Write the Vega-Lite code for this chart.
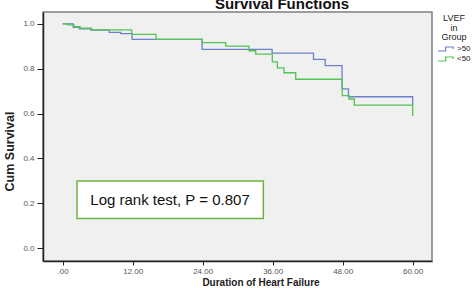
{
  "$schema": "https://vega.github.io/schema/vega-lite/v6.json",
  "width": 389,
  "height": 249,
  "autosize": {"type": "none"},
  "padding": {"left": 43, "top": 12, "right": 41, "bottom": 27},
  "background": "white",
  "config": {
    "view": {"fill": "#f0f0f0", "stroke": "#808080", "strokeWidth": 1.5},
    "font": "Liberation Sans"
  },
  "title": {
    "text": "Survival Functions",
    "fontSize": 15,
    "fontWeight": "bold",
    "font": "Liberation Sans",
    "color": "#111111",
    "anchor": "middle",
    "frame": "group",
    "dx": 44.5,
    "baseline": "alphabetic",
    "offset": -12
  },
  "datasets": {
    "km": [
      {"group": ">50", "t": 0, "s": 1.0},
      {"group": ">50", "t": 1.8, "s": 0.984},
      {"group": ">50", "t": 2.85, "s": 0.977},
      {"group": ">50", "t": 4.85, "s": 0.972},
      {"group": ">50", "t": 8.0, "s": 0.962},
      {"group": ">50", "t": 9.95, "s": 0.956},
      {"group": ">50", "t": 11.9, "s": 0.931},
      {"group": ">50", "t": 23.9, "s": 0.886},
      {"group": ">50", "t": 35.9, "s": 0.869},
      {"group": ">50", "t": 43.0, "s": 0.842},
      {"group": ">50", "t": 45.0, "s": 0.814},
      {"group": ">50", "t": 47.9, "s": 0.71},
      {"group": ">50", "t": 49.0, "s": 0.675},
      {"group": ">50", "t": 60.0, "s": 0.638},
      {"group": "<50", "t": 0, "s": 1.0},
      {"group": "<50", "t": 0.86, "s": 0.995},
      {"group": "<50", "t": 1.94, "s": 0.987},
      {"group": "<50", "t": 2.97, "s": 0.981},
      {"group": "<50", "t": 4.97, "s": 0.973},
      {"group": "<50", "t": 11.83, "s": 0.953},
      {"group": "<50", "t": 16.0, "s": 0.931},
      {"group": "<50", "t": 23.93, "s": 0.916},
      {"group": "<50", "t": 27.94, "s": 0.901},
      {"group": "<50", "t": 31.94, "s": 0.88},
      {"group": "<50", "t": 33.09, "s": 0.865},
      {"group": "<50", "t": 35.94, "s": 0.83},
      {"group": "<50", "t": 36.8, "s": 0.804},
      {"group": "<50", "t": 37.94, "s": 0.782},
      {"group": "<50", "t": 39.95, "s": 0.753},
      {"group": "<50", "t": 47.93, "s": 0.68},
      {"group": "<50", "t": 49.08, "s": 0.665},
      {"group": "<50", "t": 50.0, "s": 0.638},
      {"group": "<50", "t": 60.0, "s": 0.589}
    ],
    "note": [{"label": "Log rank test, P = 0.807"}]
  },
  "layer": [
    {
      "data": {"name": "km"},
      "mark": {"type": "line", "interpolate": "step-after", "strokeWidth": 1.3},
      "encoding": {
        "x": {
          "field": "t",
          "type": "quantitative",
          "scale": {"domain": [-3.38, 63.32], "nice": false, "zero": false},
          "axis": {
            "title": "Duration of Heart Failure",
            "values": [0, 12, 24, 36, 48, 60],
            "labelExpr": "datum.value == 0 ? '.00' : format(datum.value, '.2f')",
            "grid": false,
            "labelFlush": false,
            "domainColor": "#222222",
            "domainWidth": 1.5,
            "tickColor": "#222222",
            "tickSize": 4,
            "labelFont": "Liberation Sans",
            "labelFontSize": 8,
            "labelColor": "#555555",
            "labelPadding": 2,
            "titleFont": "Liberation Sans",
            "titleFontSize": 10,
            "titleFontWeight": "bold",
            "titleColor": "#222222",
            "titleX": 217.5,
            "titleY": 21,
            "titleAlign": "center",
            "titleBaseline": "middle"
          }
        },
        "y": {
          "field": "s",
          "type": "quantitative",
          "scale": {"domain": [-0.0566, 1.0526], "nice": false, "zero": false},
          "axis": {
            "title": "Cum Survival",
            "values": [0, 0.2, 0.4, 0.6, 0.8, 1.0],
            "format": ".1f",
            "grid": false,
            "labelFlush": false,
            "domainColor": "#222222",
            "domainWidth": 1.5,
            "tickColor": "#222222",
            "tickSize": 6,
            "labelFont": "Liberation Sans",
            "labelFontSize": 8,
            "labelColor": "#555555",
            "labelPadding": 3,
            "titleFont": "Liberation Sans",
            "titleFontSize": 12.5,
            "titleFontWeight": "bold",
            "titleColor": "#222222",
            "titleX": -34,
            "titleY": 139,
            "titleAngle": 270,
            "titleAlign": "center",
            "titleBaseline": "middle"
          }
        },
        "stroke": {
          "field": "group",
          "type": "nominal",
          "scale": {"domain": [">50", "<50"], "range": ["#6c80cc", "#52c452"]},
          "legend": {
            "orient": "none",
            "legendX": 394,
            "legendY": 2,
            "title": ["LVEF", "in", "Group"],
            "titleFont": "Liberation Sans",
            "titleFontSize": 9,
            "titleFontWeight": "normal",
            "titleColor": "#222222",
            "titleAlign": "center",
            "titleAnchor": "middle",
            "titleLineHeight": 9.5,
            "titlePadding": 2,
            "labelFont": "Liberation Sans",
            "labelFontSize": 8,
            "labelColor": "#222222",
            "labelOffset": 10,
            "symbolType": "M-1,0.5H0.9V-0.5H2.8V0",
            "symbolSize": 64,
            "symbolStrokeWidth": 1.2,
            "rowPadding": 0,
            "padding": 0
          }
        }
      }
    },
    {
      "data": {"name": "note"},
      "mark": {"type": "rect", "fill": "white", "stroke": "#6db33f", "strokeWidth": 1.5},
      "encoding": {
        "x": {"datum": 2.45, "type": "quantitative"},
        "x2": {"datum": 34.4},
        "y": {"datum": 0.3, "type": "quantitative"},
        "y2": {"datum": 0.133}
      }
    },
    {
      "data": {"name": "note"},
      "mark": {"type": "text", "fontSize": 15, "font": "Liberation Sans", "color": "#111111", "align": "center", "baseline": "middle"},
      "encoding": {
        "x": {"datum": 18.4, "type": "quantitative"},
        "y": {"datum": 0.217, "type": "quantitative"},
        "text": {"field": "label"}
      }
    }
  ]
}
